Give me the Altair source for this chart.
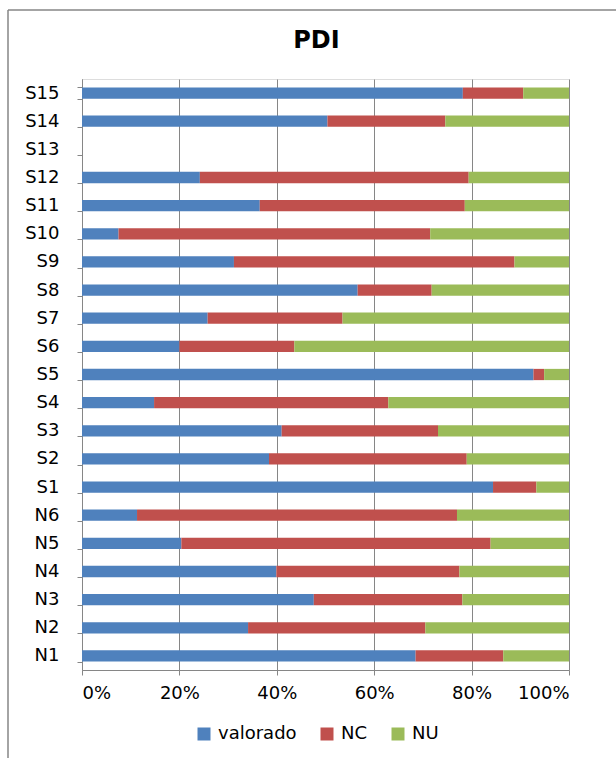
import altair as alt
import pandas as pd

categories = ["S15", "S14", "S13", "S12", "S11", "S10", "S9", "S8", "S7", "S6", "S5",
              "S4", "S3", "S2", "S1", "N6", "N5", "N4", "N3", "N2", "N1"]
valorado = [78.2, 50.4, 0, 24.2, 36.5, 7.5, 31.2, 56.6, 25.8, 20.0, 92.7,
            14.8, 41.0, 38.4, 84.4, 11.3, 20.4, 39.9, 47.6, 34.1, 68.5]
nc = [12.4, 24.2, 0, 55.2, 42.1, 64.0, 57.6, 15.2, 27.7, 23.6, 2.2,
      48.1, 32.1, 40.6, 8.9, 65.7, 63.5, 37.6, 30.5, 36.4, 18.0]
nu = [9.4, 25.4, 0, 20.6, 21.4, 28.5, 11.2, 28.2, 46.5, 56.4, 5.1,
      37.1, 26.9, 21.0, 6.7, 23.0, 16.1, 22.5, 21.9, 29.5, 13.5]
series = ["valorado", "NC", "NU"]
colors = ["#4F81BD", "#C0504D", "#9BBB59"]
x_ticks = [0, 20, 40, 60, 80, 100]

rows = []
for i, c in enumerate(categories):
    for k, (s, vals) in enumerate(zip(series, [valorado, nc, nu])):
        rows.append({"cat": c, "series": s, "value": vals[i], "ord": k})
df = pd.DataFrame(rows)

FONT = "DejaVu Sans"
GRAY = "#868686"
FS = 18

bars = alt.Chart(df).mark_bar().encode(
    x=alt.X("value:Q", stack="zero",
            scale=alt.Scale(domain=[0, 100], nice=False),
            axis=alt.Axis(values=x_ticks, labelExpr="datum.value + '%'",
                          grid=True, gridColor=GRAY, gridWidth=1,
                          domainColor=GRAY, tickColor=GRAY, tickSize=5,
                          labelPadding=9, labelFontSize=FS, labelColor="black",
                          labelFont=FONT),
            title=None),
    y=alt.Y("cat:N",
            scale=alt.Scale(domain=categories, paddingInner=0.6, paddingOuter=0.3),
            axis=alt.Axis(tickBand="extent", domainColor=GRAY, tickColor=GRAY,
                          tickSize=5, labelPadding=18, labelFontSize=FS,
                          labelColor="black", labelFont=FONT, grid=False),
            title=None),
    color=alt.Color("series:N",
                    scale=alt.Scale(domain=series, range=colors),
                    legend=alt.Legend(orient="none", legendX=113, legendY=646,
                                      direction="horizontal", title=None,
                                      symbolType="square", symbolSize=169,
                                      symbolStrokeWidth=0, labelFontSize=FS,
                                      labelFont=FONT, labelColor="black",
                                      labelOffset=5, columnPadding=21)),
    order=alt.Order("ord:Q"),
)

frame_df = pd.DataFrame({"a": [0]})
left_line = alt.Chart(frame_df).mark_rule(color=GRAY, strokeWidth=1.5).encode(
    x=alt.value(-74), y=alt.value(-69), y2=alt.value(700))
top_line = alt.Chart(frame_df).mark_rule(color=GRAY, strokeWidth=1.5).encode(
    x=alt.value(-74), x2=alt.value(560), y=alt.value(-69))

chart = alt.layer(bars, left_line, top_line).properties(
    width=487, height=591,
    title=alt.TitleParams("PDI", fontSize=24, font=FONT, fontWeight="bold",
                          anchor="middle", offset=-44, dx=-9, color="black"),
    autosize=alt.AutoSizeParams(type="none"),
    padding={"left": 82, "top": 79, "right": 47, "bottom": 88},
).configure_view(stroke=None).configure(background="white")

chart.save("out.html", embed_options={"renderer": "svg", "actions": False})
